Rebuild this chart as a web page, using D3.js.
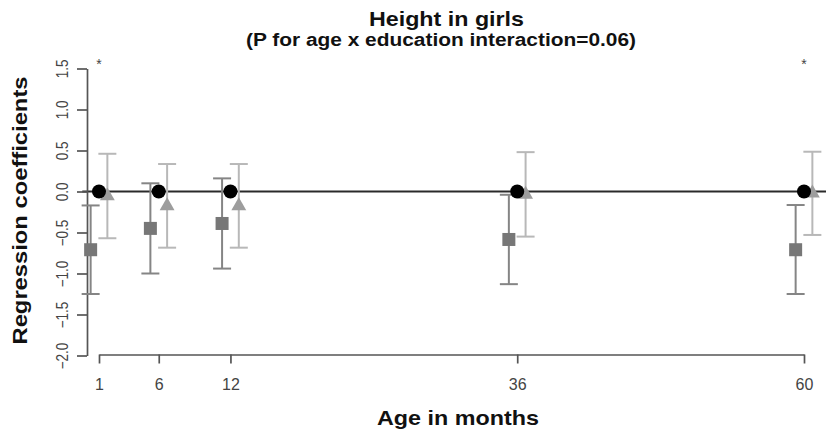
<!DOCTYPE html>
<html>
<head>
<meta charset="utf-8">
<script src="https://cdn.jsdelivr.net/npm/d3@7"></script>
<style>
  html, body { margin: 0; padding: 0; background: #fff; }
  svg { display: block; font-family: "Liberation Sans", Arial, Helvetica, sans-serif; }
</style>
</head>
<body>
<svg id="chart" width="826" height="439"></svg>
<script>
// Age at measurement (months)
const ages = [1, 6, 12, 36, 60];

// Reference group (black circles)
const refEst = [0, 0, 0, 0, 0];

// Low education group (dark grey squares) with 95% CI
const lowEst = [-0.71, -0.45, -0.39, -0.585, -0.71];
const lowLo  = [-1.25, -1.00, -0.94, -1.13, -1.25];
const lowHi  = [-0.17, 0.10, 0.16, -0.04, -0.165];

// Middle education group (light grey triangles) with 95% CI
const midEst = [-0.055, -0.175, -0.175, -0.035, -0.02];
const midLo  = [-0.57, -0.685, -0.685, -0.55, -0.53];
const midHi  = [0.46, 0.335, 0.335, 0.48, 0.485];

// Ages with a significant difference, marked with an asterisk
const starAges = [1, 60];
const starLevel = 1.58;

const yTicks = [-2.0, -1.5, -1.0, -0.5, 0.0, 0.5, 1.0, 1.5];
const xTicks = ages;

const titleText = "Height in girls";
const subtitleText = "(P for age x education interaction=0.06)";
const xTitle = "Age in months";
const yTitle = "Regression coefficients";

const svg = d3.select("#chart");

const x = d3.scaleLinear().domain([1, 60]).range([99, 804]);
const y = d3.scaleLinear().domain([-2, 1.5]).range([355.5, 68.5]);
const dodge = 0.7;   // horizontal shift of the two comparison groups, in months
const capHalf = 9;

// Zero reference line across the plotting region
svg.append("line")
  .attr("x1", x(-0.4)).attr("x2", x(62))
  .attr("y1", y(0)).attr("y2", y(0))
  .attr("stroke", "#2a2a2a").attr("stroke-width", 2.2);

// Y axis
const yAxis = svg.append("g").attr("transform", `translate(87,0)`)
  .call(d3.axisLeft(y).tickValues(yTicks).tickSize(10).tickSizeOuter(0).tickFormat(d3.format(".1f")));
yAxis.select(".domain").attr("stroke", "#555").attr("stroke-width", 1.7);
yAxis.selectAll(".tick line").attr("stroke", "#555").attr("stroke-width", 1.7);
yAxis.selectAll(".tick text")
  .attr("x", null).attr("dy", null)
  .attr("transform", "translate(-19,0) rotate(-90) scale(1,1.18)")
  .attr("text-anchor", "middle")
  .attr("font-size", 13.5)
  .attr("fill", "#444")
  .attr("font-family", "'Liberation Sans', Arial, sans-serif");

// X axis
const xAxis = svg.append("g").attr("transform", `translate(0,354.5)`)
  .call(d3.axisBottom(x).tickValues(xTicks).tickSize(9).tickSizeOuter(0).tickFormat(d3.format("d")));
xAxis.select(".domain").attr("stroke", "#555").attr("stroke-width", 1.7);
xAxis.selectAll(".tick line").attr("stroke", "#555").attr("stroke-width", 1.7);
xAxis.selectAll(".tick text")
  .attr("y", 35).attr("dy", null)
  .attr("font-size", 16)
  .attr("fill", "#444")
  .attr("font-family", "'Liberation Sans', Arial, sans-serif");

// Error bars
function errorBars(cls, est, lo, hi, shift, color) {
  const g = svg.append("g").attr("class", cls);
  const rows = ages.map((a, i) => ({ a: a + shift, lo: lo[i], hi: hi[i] }));
  g.selectAll("line.stem").data(rows).join("line").attr("class", "stem")
    .attr("x1", d => x(d.a)).attr("x2", d => x(d.a))
    .attr("y1", d => y(d.lo)).attr("y2", d => y(d.hi))
    .attr("stroke", color).attr("stroke-width", 2);
  ["lo", "hi"].forEach(k => {
    g.selectAll("line.cap-" + k).data(rows).join("line").attr("class", "cap-" + k)
      .attr("x1", d => x(d.a) - capHalf).attr("x2", d => x(d.a) + capHalf)
      .attr("y1", d => y(d[k])).attr("y2", d => y(d[k]))
      .attr("stroke", color).attr("stroke-width", 2);
  });
}
errorBars("low-ci", lowEst, lowLo, lowHi, -dodge, "#858585");
errorBars("mid-ci", midEst, midLo, midHi, dodge, "#b8b8b8");

// Squares
const sq = 13;
svg.append("g").selectAll("rect").data(ages.map((a, i) => ({ a: a - dodge, v: lowEst[i] })))
  .join("rect")
  .attr("x", d => x(d.a) - sq / 2).attr("y", d => y(d.v) - sq / 2)
  .attr("width", sq).attr("height", sq)
  .attr("fill", "#777");

// Triangles (centroid at the estimate)
const tr = 8.6;
svg.append("g").selectAll("path").data(ages.map((a, i) => ({ a: a + dodge, v: midEst[i] })))
  .join("path")
  .attr("transform", d => `translate(${x(d.a)},${y(d.v)})`)
  .attr("d", `M0,${-tr}L${tr * 0.866},${tr / 2}L${-tr * 0.866},${tr / 2}Z`)
  .attr("fill", "#9d9d9d");

// Circles
svg.append("g").selectAll("circle").data(ages.map((a, i) => ({ a: a, v: refEst[i] })))
  .join("circle")
  .attr("cx", d => x(d.a)).attr("cy", d => y(d.v))
  .attr("r", 7).attr("fill", "#000");

// Significance asterisks
svg.append("g").selectAll("text").data(starAges).join("text")
  .attr("x", d => x(d)).attr("y", y(starLevel))
  .attr("dy", 7)
  .attr("text-anchor", "middle")
  .attr("font-size", 14)
  .attr("fill", "#444")
  .text("*");

// Titles
svg.append("text")
  .attr("x", 446.5).attr("y", 26)
  .attr("text-anchor", "middle")
  .attr("font-weight", "bold").attr("font-size", 20.5)
  .attr("fill", "#111")
  .attr("textLength", 155).attr("lengthAdjust", "spacingAndGlyphs")
  .text(titleText);

svg.append("text")
  .attr("x", 441).attr("y", 46)
  .attr("text-anchor", "middle")
  .attr("font-weight", "bold").attr("font-size", 17.5)
  .attr("fill", "#111")
  .attr("textLength", 390).attr("lengthAdjust", "spacingAndGlyphs")
  .text(subtitleText);

svg.append("text")
  .attr("x", 458).attr("y", 425)
  .attr("text-anchor", "middle")
  .attr("font-weight", "bold").attr("font-size", 21)
  .attr("fill", "#111")
  .attr("textLength", 162).attr("lengthAdjust", "spacingAndGlyphs")
  .text(xTitle);

svg.append("text")
  .attr("transform", "translate(27,210.5) rotate(-90)")
  .attr("text-anchor", "middle")
  .attr("font-weight", "bold").attr("font-size", 21)
  .attr("fill", "#111")
  .attr("textLength", 268).attr("lengthAdjust", "spacingAndGlyphs")
  .text(yTitle);
</script>
</body>
</html>
